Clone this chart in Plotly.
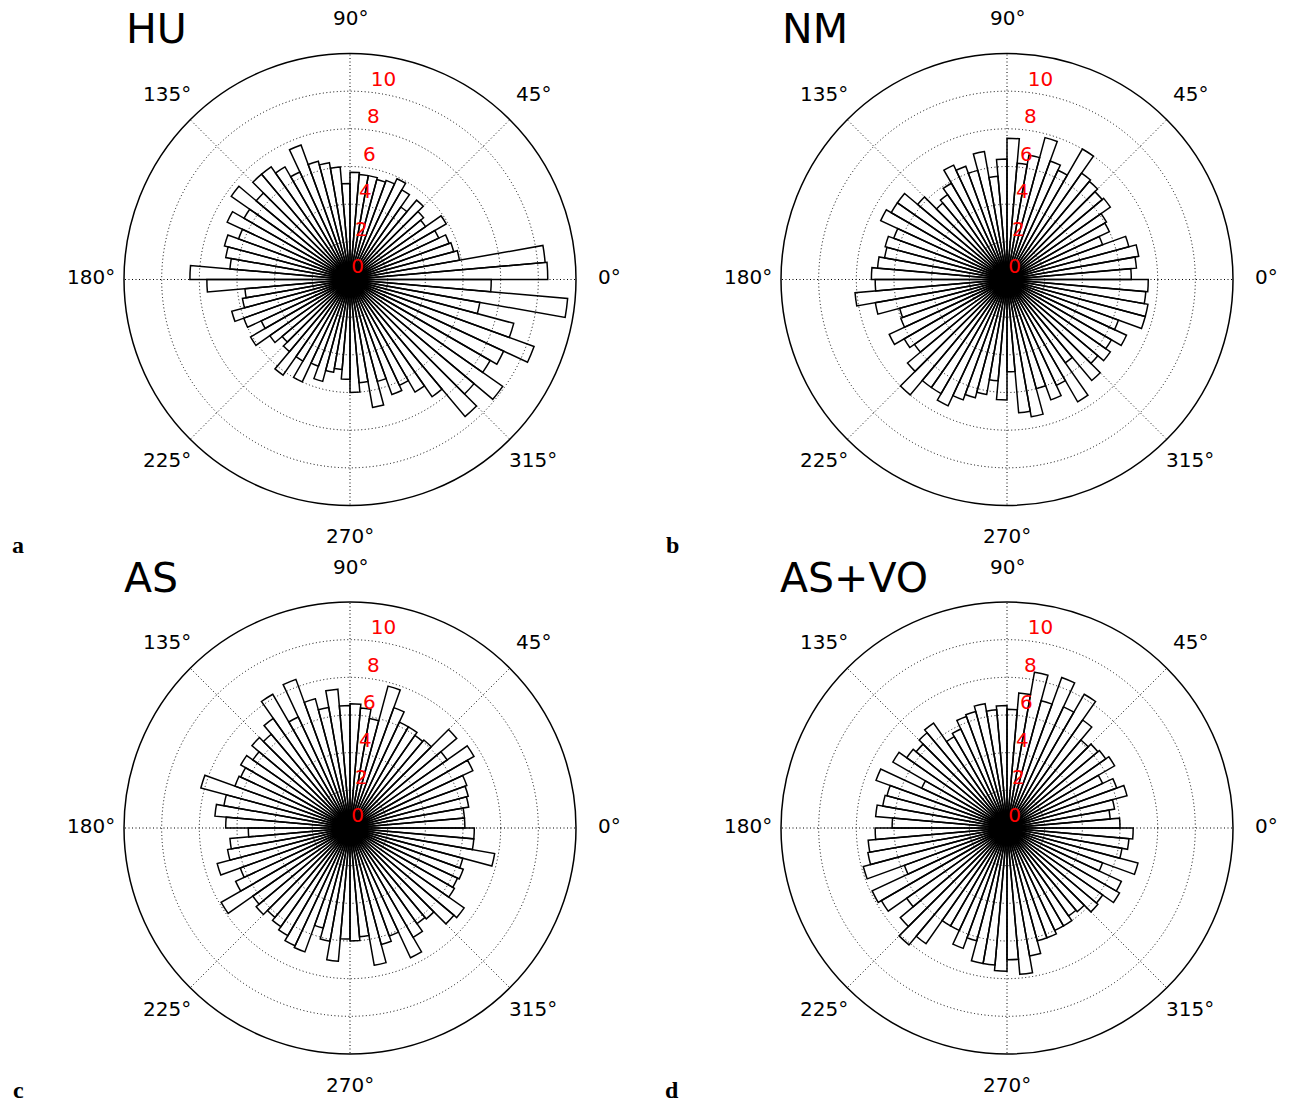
import math
import plotly.graph_objects as go

# ---------------- data ----------------
bin_start = list(range(0, 360, 5))           # 5-degree sectors, counter-clockwise from 0°
bin_width = 5

hu = [10.5, 10.4, 5.9, 5.7, 5.6, 5.2, 5.9, 4.9, 5.1, 5.5, 4.7, 5.5, 5.9, 5.6, 5.5, 5.6, 5.6, 5.7,
      5.1, 6.0, 6.3, 6.5, 7.6, 6.3, 6.9, 7.3, 7.3, 6.5, 7.7, 6.5, 7.2, 6.3, 6.9, 6.7, 6.4, 8.5,
      7.6, 5.6, 5.8, 6.5, 6.0, 5.2, 6.1, 5.2, 4.7, 5.0, 6.2, 5.0, 6.0, 4.9, 5.6, 5.0, 4.8, 5.3,
      6.0, 5.5, 6.9, 5.6, 6.5, 6.2, 6.9, 7.6, 9.5, 8.6, 9.9, 8.6, 9.0, 10.4, 9.0, 7.0, 11.6, 7.5]

nm = [6.6, 6.9, 7.1, 6.7, 5.4, 6.0, 6.1, 6.7, 6.6, 6.8, 6.9, 8.0, 6.4, 6.7, 7.8, 6.7, 6.2, 7.5,
      6.4, 5.5, 6.9, 6.0, 6.4, 6.7, 5.9, 5.5, 5.3, 6.2, 7.1, 7.1, 7.4, 6.4, 6.7, 6.6, 6.9, 7.2,
      7.0, 8.1, 7.1, 5.9, 6.0, 6.9, 6.3, 6.0, 6.9, 8.0, 7.0, 7.0, 7.4, 6.8, 6.5, 6.2, 5.4, 6.4,
      4.9, 7.1, 7.4, 6.0, 6.8, 6.2, 7.5, 5.4, 7.0, 6.3, 6.7, 6.4, 7.0, 6.3, 7.6, 7.6, 7.4, 7.5]

as_ = [6.1, 6.1, 6.4, 6.5, 6.6, 7.2, 7.6, 6.3, 7.4, 6.1, 6.0, 6.2, 6.2, 6.8, 7.8, 5.9, 6.4, 6.6,
       6.5, 7.4, 6.5, 7.1, 8.4, 6.5, 8.2, 7.1, 6.5, 6.8, 6.3, 6.7, 6.4, 6.5, 8.2, 6.8, 7.2, 6.6,
       5.4, 6.4, 6.6, 7.3, 6.2, 6.7, 7.9, 6.3, 6.5, 6.2, 6.4, 6.6, 6.9, 7.0, 5.5, 6.1, 7.1, 5.9,
       6.0, 5.8, 7.4, 6.4, 6.1, 7.6, 6.7, 6.2, 6.3, 7.2, 7.4, 6.4, 6.3, 6.4, 6.2, 7.8, 6.6, 6.6]

as_vo = [6.0, 5.5, 5.8, 6.6, 6.2, 5.6, 6.6, 6.4, 6.3, 6.1, 7.0, 8.2, 7.1, 8.5, 7.0, 8.4, 7.2, 6.3,
         6.5, 6.3, 6.7, 6.4, 6.3, 5.8, 5.6, 6.8, 6.6, 6.3, 6.5, 7.0, 5.0, 7.4, 6.6, 6.7, 7.0, 6.1,
         7.0, 7.4, 7.5, 7.9, 5.8, 7.9, 7.7, 6.5, 7.4, 8.1, 7.5, 6.0, 6.0, 6.8, 6.2, 7.3, 7.3, 7.6,
         7.0, 7.8, 6.9, 6.2, 6.2, 6.0, 6.0, 5.7, 5.8, 6.3, 6.2, 6.9, 6.7, 5.4, 7.2, 6.2, 6.5, 6.7]

panel_titles = ["HU", "NM", "AS", "AS+VO"]
panel_letters = ["a", "b", "c", "d"]
series = [hu, nm, as_, as_vo]

radial_ticks = [0, 2, 4, 6, 8, 10]
radial_max = 12
angle_ticks = [0, 45, 90, 135, 180, 225, 270, 315]
angle_labels = [f"{a}°" for a in angle_ticks]

# ---------------- layout geometry (pixels) ----------------
W, H = 1290, 1105
R_PX = 226           # outer circle radius
LABEL_R_PX = 259     # radius at which angular tick labels are centred
LABEL_DY = -2.5      # small upward nudge of angular labels
centers = [(350, 279.5), (1007, 279.5), (350, 828), (1007, 828)]
title_pos = [(124, 29), (780, 29), (122, 578), (778, 578)]
letter_pos = [(18, 545), (672, 545), (18, 1090), (672, 1090)]

fig = go.Figure()
bar_theta = [b + bin_width / 2 for b in bin_start]
label_r = [v + 0.6 for v in radial_ticks]

for i, vals in enumerate(series):
    sp = "polar" if i == 0 else f"polar{i+1}"
    fig.add_trace(go.Barpolar(
        r=vals, theta=bar_theta, width=[bin_width] * len(vals),
        marker=dict(color="rgba(255,255,255,0)", line=dict(color="black", width=1.5)),
        subplot=sp, showlegend=False, hoverinfo="skip"))
    fig.add_trace(go.Scatterpolar(
        r=label_r, theta=[84] * len(radial_ticks), mode="text",
        text=[str(v) for v in radial_ticks], textposition="middle right",
        textfont=dict(family="DejaVu Sans", size=20, color="red"),
        subplot=sp, showlegend=False, hoverinfo="skip", cliponaxis=False))

def polar_cfg(cx, cy):
    return dict(
        domain=dict(x=[(cx - R_PX) / W, (cx + R_PX) / W],
                    y=[(H - cy - R_PX) / H, (H - cy + R_PX) / H]),
        bgcolor="white",
        radialaxis=dict(range=[0, radial_max], tickvals=radial_ticks[1:], showticklabels=False,
                        ticks="", showline=False, showgrid=True, gridcolor="black",
                        griddash="1px,2.5px", gridwidth=1.2),
        angularaxis=dict(rotation=0, direction="counterclockwise", tickmode="array",
                         tickvals=angle_ticks, showticklabels=False, ticks="",
                         showline=True, linecolor="black", linewidth=1.5,
                         showgrid=True, gridcolor="black", griddash="1px,2.5px", gridwidth=1.2),
    )

layout_polars = {}
for i, (cx, cy) in enumerate(centers):
    key = "polar" if i == 0 else f"polar{i+1}"
    layout_polars[key] = polar_cfg(cx, cy)

annotations = []
# angular tick labels, centred on a circle just outside each plot (matplotlib style)
for (cx, cy) in centers:
    for a, lab in zip(angle_ticks, angle_labels):
        px = cx + LABEL_R_PX * math.cos(math.radians(a))
        py = cy - LABEL_R_PX * math.sin(math.radians(a)) + LABEL_DY
        annotations.append(dict(x=px / W, y=1 - py / H, xref="paper", yref="paper", text=lab,
                                showarrow=False, xanchor="center", yanchor="middle",
                                font=dict(family="DejaVu Sans", size=20, color="black")))
for (tx, ty), t in zip(title_pos, panel_titles):
    annotations.append(dict(x=tx / W, y=1 - ty / H, xref="paper", yref="paper", text=t,
                            showarrow=False, xanchor="left", yanchor="middle",
                            font=dict(family="DejaVu Sans", size=41, color="black")))
for (lx, ly), t in zip(letter_pos, panel_letters):
    annotations.append(dict(x=lx / W, y=1 - ly / H, xref="paper", yref="paper", text=f"<b>{t}</b>",
                            showarrow=False, xanchor="center", yanchor="middle",
                            font=dict(family="Liberation Serif", size=24, color="black")))

fig.update_layout(width=W, height=H, margin=dict(l=0, r=0, t=0, b=0),
                  paper_bgcolor="white", plot_bgcolor="white",
                  annotations=annotations, **layout_polars)

fig.write_html("out.html")
